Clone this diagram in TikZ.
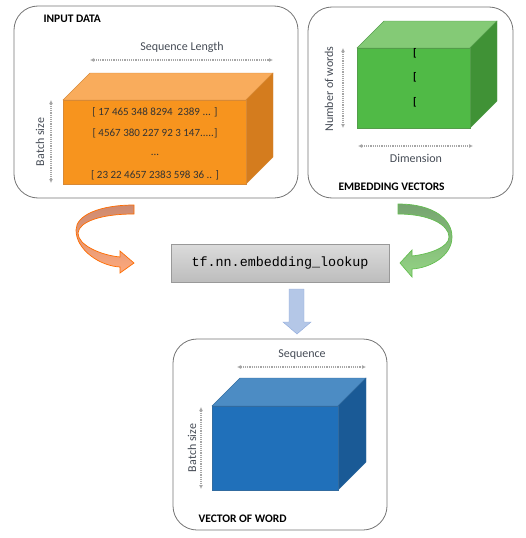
\documentclass[tikz,border=0pt]{standalone}
\usepackage{fontspec}
\setmainfont{Carlito}
\setmonofont{Liberation Mono}
\usetikzlibrary{arrows.meta}
\definecolor{lbltext}{RGB}{70,76,86}
\definecolor{orfront}{RGB}{247,148,30}
\definecolor{ortop}{RGB}{249,172,92}
\definecolor{orside}{RGB}{212,124,30}
\definecolor{grfront}{RGB}{80,186,70}
\definecolor{grtop}{RGB}{132,202,118}
\definecolor{grside}{RGB}{64,146,54}
\definecolor{blfront}{RGB}{32,112,186}
\definecolor{bltop}{RGB}{76,140,196}
\definecolor{blside}{RGB}{26,90,150}
\begin{document}
\begin{tikzpicture}[x=1pt,y=-1pt,
    panel/.style={draw=black!55, line width=0.8pt, rounded corners=24pt},
    title/.style={anchor=west, font=\fontsize{11.5}{12}\selectfont\bfseries},
    lbl/.style={text=lbltext, font=\fontsize{12}{13}\selectfont},
    dim/.style={densely dotted, draw=black!35, line width=1.2pt, {Latex[length=4pt,width=4pt]}-{Latex[length=4pt,width=4pt]}},
    row/.style={text=black!80, font=\fontsize{11}{12}\selectfont}]
    \useasboundingbox (0,0) rectangle (526,538);
    % panels
    \draw[panel] (14,6) rectangle (298,198);
    \draw[panel] (308,7) rectangle (513,198);
    \draw[panel] (173,339) rectangle (387,530);
    \draw (40,19) node[title] (tin) {INPUT DATA};
    \draw (335,187) node[title] (temb) {EMBEDDING VECTORS};
    \draw (195,519) node[title] (tvec) {VECTOR OF WORD};
    % input cuboid
    \draw[fill=ortop, draw=orside!90] (63,100) -- ++(27,-27) -- (273,73) -- (246,100) -- cycle;
    \draw[fill=orside, draw=orside!90] (246,100) -- (273,73) -- (273,157) -- (246,184) -- cycle;
    \draw[fill=orfront, draw=orside!90] (63,100) rectangle (246,184);
    \draw (155,112) node[row] (r1) {[ 17 465 348 8294 \ 2389 ... ]};
    \draw (155,133) node[row] (r2) {[ 4567 380 227 92 3 147.....]};
    \draw (155,155) node[row] (r3) {...};
    \draw (155,175) node[row] (r4) {[ 23 22 4657 2383 598 36 .. ]};
    \coordinate (sl1) at (90,60); \coordinate (sl2) at (273,60);
    \draw[dim] (sl1) -- (sl2);
    \draw (182,47) node[lbl] (lsl) {Sequence Length};
    \coordinate (bs1) at (51,100); \coordinate (bs2) at (51,183);
    \draw[dim] (bs1) -- (bs2);
    \draw (40,142) node[lbl, rotate=90] (lbs) {Batch size};
    % embedding cube
    \draw[fill=grtop, draw=grside!90] (357,48) -- ++(27,-27) -- (497,21) -- (470,48) -- cycle;
    \draw[fill=grside, draw=grside!90] (470,48) -- (497,21) -- (497,101) -- (470,128) -- cycle;
    \draw[fill=grfront, draw=grside!90] (357,48) rectangle (470,128);
    \foreach \yy/\nm in {53/b1,77/b2,102/b3}
        \draw (415,\yy) node[font=\fontsize{11}{12}\selectfont\bfseries] (\nm) {[};
    \coordinate (nw1) at (343,48); \coordinate (nw2) at (343,128);
    \draw[dim] (nw1) -- (nw2);
    \draw (329,89) node[lbl, rotate=90] (lnw) {Number of words};
    \coordinate (dm1) at (358,146); \coordinate (dm2) at (473,146);
    \draw[dim] (dm1) -- (dm2);
    \draw (416,158) node[lbl] (ldm) {Dimension};
    % lookup
    \draw (280,263) node[draw=black!40, line width=0.8pt, top color=black!14, bottom color=black!26,
        minimum width=218pt, minimum height=38pt, font=\ttfamily\fontsize{13.4}{14}\selectfont] (look) {tf.nn.embedding\_lookup};
    \path[draw=orange!85!red, line width=0.7pt, top color={rgb,255:red,206;green,138;blue,112}, bottom color={rgb,255:red,252;green,168;blue,124}]
        (134,205) .. controls (100,205) and (76,215) .. (76,230) .. controls (76,250) and (100,266) .. (120,267)
        -- (120,273) -- (134,263) -- (120,251) -- (120,257)
        .. controls (100,255) and (78,245) .. (78,233) .. controls (79,222) and (100,214) .. (134,214) -- cycle;
    \path[draw={rgb,255:red,100;green,190;blue,80}, line width=0.7pt, top color={rgb,255:red,118;green,164;blue,112}, bottom color={rgb,255:red,148;green,212;blue,132}]
        (398,204) .. controls (435,204) and (452,220) .. (452,237) .. controls (452,256) and (430,268) .. (412,269)
        -- (412,277) -- (400,263) -- (412,250) -- (412,256)
        .. controls (430,254) and (449,247) .. (449,237) .. controls (449,225) and (430,214) .. (398,214) -- cycle;
    \draw[draw={rgb,255:red,143;green,170;blue,220}, fill={rgb,255:red,180;green,199;blue,231}]
        (289,289) -- (304,289) -- (304,322) -- (311,322) -- (297,334) -- (283,322) -- (289,322) -- cycle;
    % output cuboid
    \draw[fill=bltop, draw=blside!90] (212,406) -- ++(28,-28) -- (366,378) -- (338,406) -- cycle;
    \draw[fill=blside, draw=blside!90] (338,406) -- (366,378) -- (366,462) -- (338,490) -- cycle;
    \draw[fill=blfront, draw=blside!90] (212,406) rectangle (338,490);
    \coordinate (sq1) at (237,367); \coordinate (sq2) at (366,367);
    \draw[dim] (sq1) -- (sq2);
    \draw (302,355) node[lbl] (lsq) {Sequence};
    \coordinate (ob1) at (201,407); \coordinate (ob2) at (201,489);
    \draw[dim] (ob1) -- (ob2);
    \draw (192,448) node[lbl, rotate=90] (lob) {Batch size};
\end{tikzpicture}
\end{document}
